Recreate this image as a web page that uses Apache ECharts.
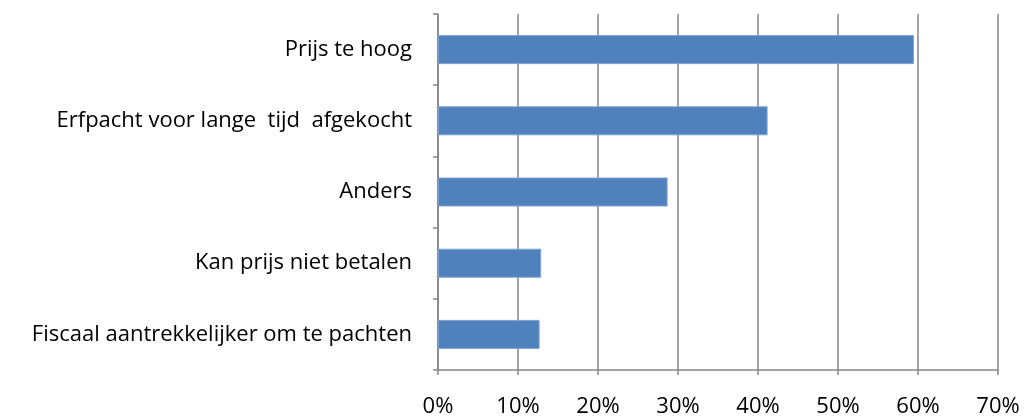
<!DOCTYPE html>
<html>
<head>
<meta charset="utf-8">
<script src="https://cdn.jsdelivr.net/npm/echarts@6/dist/echarts.min.js"></script>
<style>
html,body{margin:0;padding:0;background:#fff;}
#chart{width:1026px;height:418px;}
</style>
</head>
<body>
<div id="chart"></div>
<script>
const categories = [
  "Prijs te hoog",
  "Erfpacht voor lange  tijd  afgekocht",
  "Anders",
  "Kan prijs niet betalen",
  "Fiscaal aantrekkelijker om te pachten"
];
const values = [59.5, 41.2, 28.7, 12.9, 12.7];
const xTicks = [0, 10, 20, 30, 40, 50, 60, 70];

const chart = echarts.init(document.getElementById('chart'));
const axisGray = '#868686';
const font = '"Open Sans", Lato, sans-serif';
chart.setOption({
  animation: false,
  grid: { left: 438, right: 28, top: 14, bottom: 47, containLabel: false },
  xAxis: {
    type: 'value',
    min: xTicks[0],
    max: xTicks[xTicks.length - 1],
    interval: 10,
    axisLine: { show: true, lineStyle: { color: axisGray, width: 1.5 } },
    axisTick: { show: true, length: 5, lineStyle: { color: axisGray, width: 1.5 } },
    splitLine: { show: true, lineStyle: { color: axisGray, width: 1.5 } },
    axisLabel: { formatter: v => v + '%', color: '#000', fontSize: 22, fontFamily: font, margin: 26 }
  },
  yAxis: {
    type: 'category',
    data: categories,
    inverse: true,
    axisLine: { show: true, lineStyle: { color: axisGray, width: 1.5 } },
    axisTick: { show: true, length: 5, alignWithLabel: false, lineStyle: { color: axisGray, width: 1.5 } },
    splitLine: { show: false },
    axisLabel: { color: '#000', fontSize: 22, fontFamily: font, margin: 26 }
  },
  series: [{
    type: 'bar',
    data: values,
    barWidth: 29,
    itemStyle: { color: '#4F81BD', borderColor: '#7fa3d0', borderWidth: 1 }
  }]
});
</script>
</body>
</html>
